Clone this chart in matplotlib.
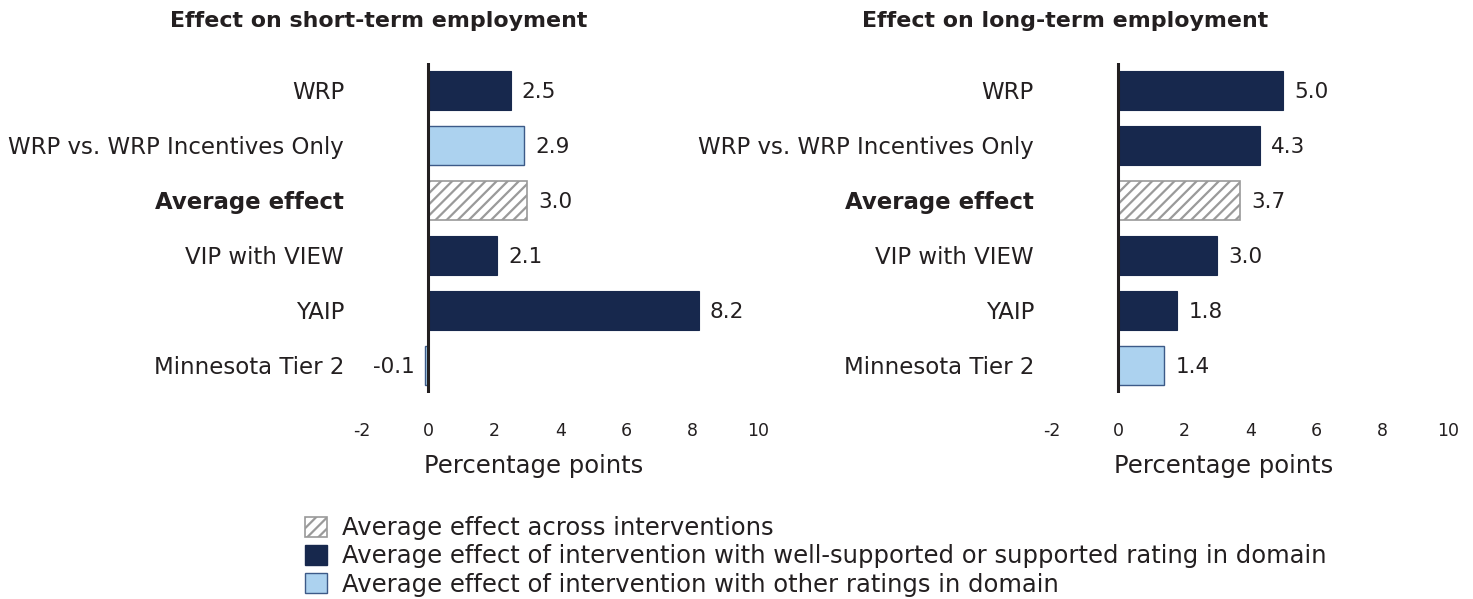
import matplotlib.pyplot as plt
from matplotlib.patches import Patch
import numpy as np

plt.rcParams['font.family'] = ['DejaVu Sans']
plt.rcParams['hatch.linewidth'] = 1.6

# data
categories = ['WRP', 'WRP vs. WRP Incentives Only', 'Average effect',
              'VIP with VIEW', 'YAIP', 'Minnesota Tier 2']
short_term = [2.5, 2.9, 3.0, 2.1, 8.2, -0.1]
long_term = [5.0, 4.3, 3.7, 3.0, 1.8, 1.4]
# 'avg' = hatched, 'good' = dark, 'other' = light
short_kind = ['good', 'other', 'avg', 'good', 'good', 'other']
long_kind = ['good', 'good', 'avg', 'good', 'good', 'other']
xticks = [-2, 0, 2, 4, 6, 8, 10]

DARK = '#17284d'
LIGHT = '#acd2ef'
LIGHT_EDGE = '#3c5a88'
GREY = '#9a9a9a'
TEXT = '#231f20'

styles = {
    'good': dict(color=DARK, edgecolor=DARK, linewidth=0.8),
    'other': dict(color=LIGHT, edgecolor=LIGHT_EDGE, linewidth=1.0),
    'avg': dict(color='white', edgecolor=GREY, hatch='///', linewidth=1.2),
}


def draw_panel(ax, values, kinds, title, title_x):
    y = np.arange(len(categories))
    for i, (v, k) in enumerate(zip(values, kinds)):
        ax.barh(y[i], v, height=0.72, **styles[k])
        if v >= 0:
            ax.annotate(f'{v:.1f}', xy=(v, y[i]), xytext=(8, 0),
                        textcoords='offset points', va='center_baseline',
                        ha='left', fontsize=15.5, color=TEXT)
        else:
            ax.annotate(f'{v:.1f}', xy=(v, y[i]), xytext=(-7, 0),
                        textcoords='offset points', va='center_baseline',
                        ha='right', fontsize=15.5, color=TEXT)
    ax.axvline(0, color=TEXT, linewidth=2.2, zorder=5)
    ax.set_xlim(-2, 10)
    ax.set_ylim(len(categories) - 0.5, -0.5)
    ax.set_xticks(xticks)
    ax.set_xticklabels([str(t) for t in xticks])
    ax.set_yticks(y)
    ax.set_yticklabels(categories)
    for lab in ax.get_yticklabels():
        lab.set_verticalalignment('center_baseline')
        if lab.get_text() == 'Average effect':
            lab.set_fontweight('bold')
    ax.tick_params(axis='x', length=0, pad=21, labelsize=12.5, labelcolor=TEXT)
    ax.tick_params(axis='y', length=0, pad=13, labelsize=16.5, labelcolor=TEXT)
    for s in ax.spines.values():
        s.set_visible(False)
    ax.set_xlabel('Percentage points', fontsize=17.5, color=TEXT, labelpad=10,
                  x=0.434)
    fig.text(title_x, 0.965, title, ha='center', va='center',
             fontsize=15.9, fontweight='bold', color=TEXT)


fig = plt.figure(figsize=(14.73, 5.99), dpi=100)
ax1 = fig.add_axes([0.2458, 0.344, 0.2690, 0.551])
ax2 = fig.add_axes([0.7142, 0.344, 0.2690, 0.551])

draw_panel(ax1, short_term, short_kind, 'Effect on short-term employment', 0.257)
draw_panel(ax2, long_term, long_kind, 'Effect on long-term employment', 0.723)

handles = [
    Patch(facecolor='white', edgecolor=GREY, hatch='///', linewidth=1.2),
    Patch(facecolor=DARK, edgecolor=DARK),
    Patch(facecolor=LIGHT, edgecolor=LIGHT_EDGE),
]
labels = ['Average effect across interventions',
          'Average effect of intervention with well-supported or supported rating in domain',
          'Average effect of intervention with other ratings in domain']
fig.legend(handles, labels, loc='upper left', bbox_to_anchor=(0.207, 0.138),
           frameon=False, fontsize=17.5, handlelength=0.9, handleheight=0.9,
           handletextpad=0.62, labelspacing=0.17, borderpad=0, borderaxespad=0,
           labelcolor=TEXT)

plt.savefig('out.png', dpi=100, facecolor='white')
